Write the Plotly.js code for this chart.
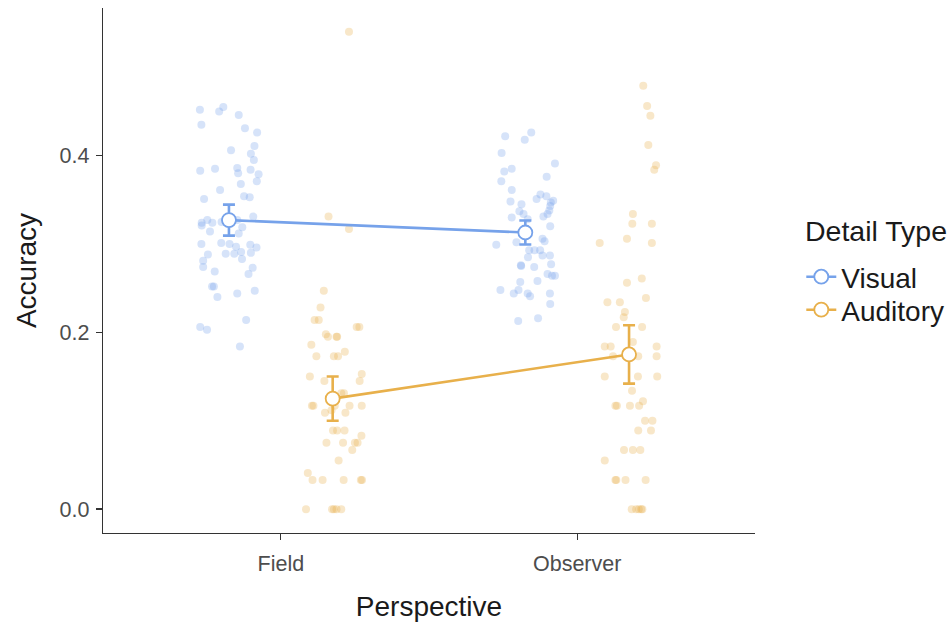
<!DOCTYPE html>
<html>
<head>
<meta charset="utf-8">
<script src="https://cdn.plot.ly/plotly-3.0.1.min.js"></script>
<style>
  html, body { margin: 0; padding: 0; background: #ffffff; }
  #chart { width: 951px; height: 623px; }
</style>
</head>
<body>
<div id="chart"></div>
<script>
// Categories and series
const perspectives = ["Field", "Observer"];
const detailTypes = ["Visual", "Auditory"];
const seriesColors = ["#76A2EA", "#E8B04B"];

// Individual participant accuracies (x = jittered position on the category axis)
const fieldVisualX = [0.727,0.792,0.806,0.858,0.732,0.879,0.920,0.911,0.832,0.899,0.909,0.728,0.778,0.853,0.856,0.898,0.925,0.919,0.865,0.795,0.741,0.876,0.895,0.733,0.733,0.752,0.769,0.761,0.800,0.853,0.907,0.870,0.858,0.732,0.799,0.827,0.849,0.897,0.918,0.754,0.814,0.843,0.866,0.869,0.899,0.738,0.738,0.777,0.905,0.891,0.768,0.774,0.786,0.853,0.912,0.728,0.751,0.883,0.862];
const fieldVisualY = [0.452,0.450,0.455,0.446,0.435,0.431,0.426,0.411,0.406,0.402,0.395,0.383,0.385,0.386,0.380,0.384,0.379,0.371,0.368,0.361,0.351,0.354,0.353,0.324,0.321,0.327,0.324,0.314,0.325,0.327,0.331,0.319,0.312,0.300,0.301,0.300,0.297,0.299,0.296,0.288,0.289,0.289,0.291,0.283,0.290,0.281,0.274,0.269,0.273,0.266,0.252,0.252,0.240,0.244,0.247,0.206,0.203,0.214,0.184];

const fieldAuditoryX = [1.161,1.230,1.145,1.134,1.114,1.128,1.256,1.265,1.152,1.159,1.188,1.190,1.103,1.120,1.179,1.193,1.216,1.098,1.147,1.273,1.266,1.204,1.213,1.105,1.110,1.182,1.232,1.273,1.149,1.171,1.218,1.176,1.190,1.215,1.272,1.154,1.210,1.250,1.259,1.241,1.195,1.091,1.107,1.141,1.212,1.270,1.274,1.085,1.173,1.179,1.188,1.204,1.230];
const fieldAuditoryY = [0.331,0.317,0.247,0.228,0.214,0.214,0.206,0.206,0.198,0.195,0.195,0.195,0.186,0.173,0.173,0.173,0.178,0.150,0.145,0.153,0.145,0.131,0.131,0.117,0.117,0.117,0.117,0.117,0.109,0.112,0.109,0.089,0.089,0.089,0.083,0.075,0.075,0.075,0.075,0.067,0.055,0.041,0.033,0.033,0.033,0.033,0.033,0.000,0.000,0.000,0.000,0.000,0.540];

const observerVisualX = [1.757,1.823,1.845,1.745,1.925,1.754,1.779,1.897,1.744,1.779,1.876,1.863,1.896,1.919,1.911,1.775,1.812,1.909,1.906,1.805,1.819,1.900,1.886,1.779,1.833,1.909,1.727,1.795,1.883,1.890,1.838,1.856,1.875,1.883,1.834,1.908,1.810,1.811,1.855,1.912,1.900,1.915,1.925,1.808,1.866,1.741,1.786,1.802,1.833,1.841,1.908,1.909,1.801,1.868];
const observerVisualY = [0.422,0.418,0.426,0.403,0.391,0.382,0.385,0.376,0.371,0.361,0.356,0.351,0.354,0.349,0.347,0.348,0.345,0.343,0.338,0.337,0.334,0.334,0.331,0.330,0.328,0.320,0.299,0.302,0.306,0.303,0.293,0.293,0.293,0.287,0.285,0.287,0.276,0.275,0.274,0.277,0.266,0.264,0.264,0.257,0.258,0.248,0.244,0.248,0.244,0.241,0.244,0.232,0.213,0.216];

const observerAuditoryX = [2.223,2.236,2.247,2.240,2.266,2.260,2.188,2.186,2.252,2.168,2.076,2.252,2.218,2.168,2.232,2.102,2.144,2.161,2.157,2.131,2.219,2.188,2.093,2.113,2.268,2.121,2.206,2.268,2.093,2.205,2.270,2.185,2.222,2.129,2.134,2.178,2.209,2.229,2.254,2.206,2.249,2.158,2.188,2.213,2.093,2.129,2.132,2.163,2.231,2.184,2.199,2.208,2.216,2.220];
const observerAuditoryY = [0.479,0.456,0.445,0.412,0.389,0.384,0.334,0.323,0.323,0.306,0.301,0.301,0.261,0.256,0.239,0.234,0.234,0.223,0.217,0.206,0.206,0.189,0.184,0.184,0.184,0.173,0.173,0.173,0.150,0.150,0.150,0.134,0.122,0.117,0.117,0.117,0.117,0.100,0.100,0.089,0.089,0.067,0.067,0.067,0.055,0.033,0.033,0.033,0.033,0.000,0.000,0.000,0.000,0.000];

// Group means (Field, Observer) and standard errors
const meanX = { Visual: [0.825, 1.825], Auditory: [1.175, 2.175] };
const visualMean = [0.327, 0.313];
const visualSE = [0.0175, 0.0135];
const auditoryMean = [0.125, 0.175];
const auditorySE = [0.025, 0.033];

const legendTitle = "Detail Type";

const FONT = "Liberation Sans, Arial, Helvetica, sans-serif";

function jitterTrace(x, y, color) {
  return {
    type: "scatter", mode: "markers", x: x, y: y,
    marker: { color: color, size: 8, opacity: 0.3, line: { width: 0 } },
    showlegend: false, hoverinfo: "skip"
  };
}

function meanTrace(name, x, y, se, color, legendId) {
  return {
    type: "scatter", mode: "lines+markers", name: name, x: x, y: y,
    legend: legendId,
    line: { color: color, width: 2.6 },
    marker: { color: "#ffffff", size: 14, line: { color: color, width: 1.8 } },
    error_y: { type: "data", array: se, visible: true, color: color, thickness: 2.6, width: 6 }
  };
}

const data = [
  jitterTrace(fieldVisualX, fieldVisualY, seriesColors[0]),
  jitterTrace(observerVisualX, observerVisualY, seriesColors[0]),
  jitterTrace(fieldAuditoryX, fieldAuditoryY, seriesColors[1]),
  jitterTrace(observerAuditoryX, observerAuditoryY, seriesColors[1]),
  meanTrace(detailTypes[0], meanX.Visual, visualMean, visualSE, seriesColors[0], "legend"),
  meanTrace(detailTypes[1], meanX.Auditory, auditoryMean, auditorySE, seriesColors[1], "legend2")
];

const legendBase = {
  xanchor: "left", yanchor: "middle",
  font: { size: 28, color: "#1a1a1a", family: FONT },
  bgcolor: "rgba(0,0,0,0)", itemwidth: 30
};

const layout = {
  width: 951, height: 623,
  margin: { l: 103, r: 196, t: 8, b: 90, autoexpand: false },
  paper_bgcolor: "#ffffff", plot_bgcolor: "#ffffff",
  font: { family: FONT, color: "#1a1a1a" },
  xaxis: {
    range: [0.4, 2.6],
    tickvals: [1, 2], ticktext: perspectives,
    showgrid: false, zeroline: false,
    showline: true, linecolor: "#333333", linewidth: 1.3,
    ticks: "outside", ticklen: 6, tickwidth: 1.3, tickcolor: "#333333",
    ticklabelstandoff: 5,
    tickfont: { size: 21.5, color: "#4d4d4d", family: FONT },
    title: { text: "Perspective", font: { size: 28, color: "#1a1a1a", family: FONT }, standoff: 21 }
  },
  yaxis: {
    range: [-0.027, 0.567],
    tickvals: [0, 0.2, 0.4], tickformat: ".1f",
    showgrid: false, zeroline: false,
    showline: true, linecolor: "#333333", linewidth: 1.3,
    ticks: "outside", ticklen: 6, tickwidth: 1.3, tickcolor: "#333333",
    ticklabelstandoff: 2,
    tickfont: { size: 21.5, color: "#4d4d4d", family: FONT },
    title: { text: "Accuracy", font: { size: 28, color: "#1a1a1a", family: FONT }, standoff: 14 }
  },
  showlegend: true,
  legend: Object.assign({ x: 1.071, y: 0.4876 }, legendBase),
  legend2: Object.assign({ x: 1.071, y: 0.4248 }, legendBase),
  annotations: [{
    text: legendTitle, xref: "paper", yref: "paper",
    x: 1.0736, y: 0.575, xanchor: "left", yanchor: "middle", showarrow: false,
    font: { size: 28.5, color: "#1a1a1a", family: FONT }
  }]
};

Plotly.newPlot("chart", data, layout, { displayModeBar: false, staticPlot: true });
</script>
</body>
</html>
